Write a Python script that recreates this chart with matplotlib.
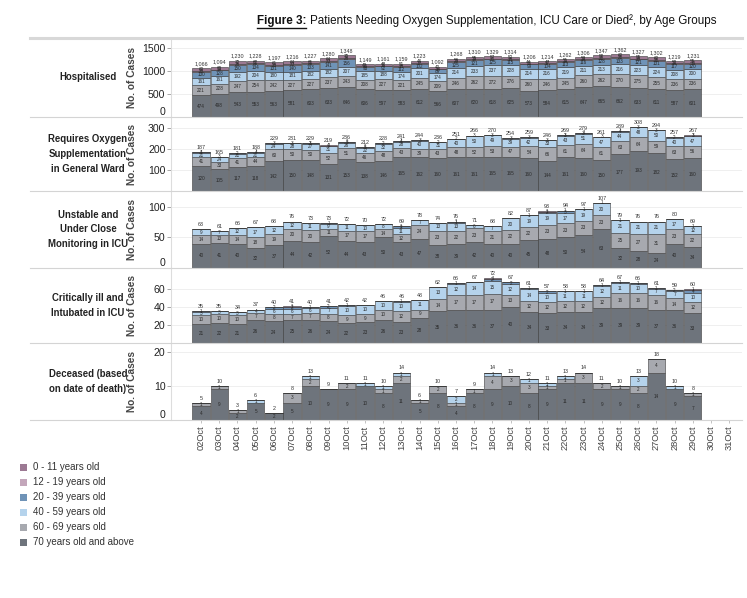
# -*- coding: utf-8 -*-
"""
Figure 3: patients needing oxygen, ICU care or died, by age group (stacked bars)
"""

import matplotlib.pyplot as plt
from matplotlib.lines import Line2D
from matplotlib.patches import Rectangle
import numpy as np

plt.rcParams['font.family'] = ['Liberation Sans', 'DejaVu Sans']

W, H = 747, 598

tick_dates = ['02Oct', '03Oct', '04Oct', '05Oct', '06Oct', '07Oct', '08Oct', '09Oct',
              '10Oct', '11Oct', '12Oct', '13Oct', '14Oct', '15Oct', '16Oct', '17Oct',
              '18Oct', '19Oct', '20Oct', '21Oct', '22Oct', '23Oct', '24Oct', '25Oct',
              '26Oct', '27Oct', '28Oct', '29Oct', '30Oct', '31Oct']
bar_dates = tick_dates[:28]

groups = ['0 - 11 years old', '12 - 19 years old', '20 - 39 years old',
          '40 - 59 years old', '60 - 69 years old', '70 years old and above']
colors = ['#9c7993', '#c3a6ba', '#6f93b7', '#b5d3ec', '#a7a9af', '#6e747c']

# --- Hospitalised
hosp_70 = [474, 498, 543, 553, 563, 581, 603, 633, 646, 606, 597, 583, 612, 566,
           607, 620, 618, 625, 573, 584, 615, 647, 665, 662, 633, 611, 587, 601]
hosp_60 = [221, 228, 247, 254, 242, 227, 227, 237, 243, 208, 227, 221, 245, 209,
           246, 262, 272, 276, 260, 246, 245, 260, 262, 270, 275, 255, 236, 236]
hosp_40 = [161, 161, 192, 204, 180, 181, 182, 182, 207, 185, 188, 174, 201, 174,
           214, 233, 237, 228, 214, 216, 219, 211, 213, 216, 223, 224, 208, 200]
hosp_20 = [130, 128, 150, 134, 131, 140, 133, 141, 156, 93, 92, 112, 102, 89,
           125, 121, 125, 115, 99, 104, 113, 116, 128, 133, 121, 131, 117, 120]
hosp_12 = [20, 19, 26, 21, 20, 23, 21, 23, 26, 15, 15, 18, 17, 14,
           20, 19, 20, 18, 16, 17, 19, 19, 21, 21, 20, 21, 19, 19]
hosp_0 = [60, 60, 72, 62, 61, 64, 61, 64, 70, 42, 42, 51, 46, 40,
          56, 55, 57, 52, 44, 47, 51, 53, 58, 60, 55, 60, 52, 55]

# --- Requires oxygen supplementation in general ward
oxy_70 = [120, 105, 117, 118, 142, 150, 148, 131, 153, 138, 146, 165, 162, 160,
          161, 161, 165, 165, 160, 144, 161, 160, 150, 177, 193, 182, 152, 160]
oxy_60 = [41, 33, 41, 44, 60, 50, 50, 52, 51, 46, 48, 43, 39, 43,
          48, 52, 53, 47, 54, 66, 61, 64, 61, 63, 64, 59, 63, 56]
oxy_40 = [21, 24, 21, 21, 24, 28, 27, 31, 26, 22, 32, 28, 40, 31,
          40, 50, 49, 39, 42, 33, 43, 51, 47, 44, 48, 50, 40, 47]
oxy_20 = [4, 3, 2, 4, 3, 3, 3, 4, 5, 5, 2, 4, 3, 2,
          2, 3, 3, 3, 3, 3, 3, 3, 3, 4, 3, 3, 2, 3]
oxy_12 = [0] * 28
oxy_0 = [1, 0, 0, 1, 0, 0, 1, 1, 1, 1, 0, 1, 0, 0,
         0, 0, 0, 0, 0, 0, 1, 1, 0, 1, 0, 0, 0, 1]

# --- Unstable and under close monitoring in ICU
uns_70 = [40, 41, 40, 32, 37, 44, 42, 52, 44, 43, 50, 43, 47, 38,
          39, 42, 40, 40, 45, 48, 50, 54, 63, 32, 28, 24, 40, 34]
uns_60 = [14, 13, 14, 18, 19, 20, 20, 11, 17, 17, 14, 12, 24, 23,
          22, 23, 21, 22, 22, 23, 23, 23, 23, 25, 27, 31, 23, 22]
uns_40 = [9, 7, 12, 17, 12, 12, 11, 9, 11, 10, 8, 11, 7, 13,
          13, 6, 7, 20, 19, 19, 17, 19, 20, 21, 21, 21, 17, 12]
uns_20 = [0, 0, 0, 0, 0, 0, 0, 1, 0, 0, 0, 2, 0, 0,
          1, 0, 0, 0, 1, 2, 3, 1, 1, 1, 0, 0, 0, 1]
uns_12 = [0] * 28
uns_0 = [0, 0, 0, 0, 0, 0, 0, 0, 0, 0, 0, 1, 0, 0,
         1, 0, 0, 0, 0, 1, 1, 0, 0, 0, 0, 0, 0, 0]

# --- Critically ill and intubated in ICU
crit_70 = [21, 22, 21, 26, 24, 25, 26, 24, 22, 23, 26, 23, 28, 35,
           36, 36, 37, 40, 34, 33, 34, 34, 39, 39, 39, 37, 36, 33]
crit_60 = [10, 10, 10, 7, 8, 7, 7, 8, 9, 9, 10, 12, 9, 14,
           17, 17, 17, 13, 12, 12, 12, 12, 12, 16, 16, 16, 14, 12]
crit_40 = [3, 3, 3, 4, 6, 6, 6, 7, 10, 10, 10, 10, 11, 13,
           12, 14, 15, 12, 14, 10, 11, 11, 12, 11, 10, 7, 7, 10]
crit_20 = [1, 0, 0, 0, 2, 2, 1, 2, 1, 0, 0, 1, 0, 0,
           1, 0, 2, 2, 1, 2, 1, 1, 1, 1, 1, 1, 2, 4]
crit_12 = [0] * 28
crit_0 = [0, 0, 0, 0, 0, 1, 0, 0, 0, 0, 0, 0, 0, 0,
          0, 0, 1, 0, 0, 0, 0, 0, 0, 0, 0, 0, 0, 1]

# --- Deceased (based on date of death)
dec_70 = [4, 9, 2, 5, 2, 5, 10, 9, 9, 10, 8, 11, 5, 8,
          4, 8, 9, 10, 8, 9, 11, 11, 9, 9, 8, 14, 9, 7]
dec_60 = [1, 1, 1, 0, 0, 3, 2, 0, 2, 0, 1, 2, 1, 2,
          1, 1, 4, 3, 3, 1, 1, 3, 2, 1, 2, 4, 0, 1]
dec_40 = [0, 0, 0, 1, 0, 0, 1, 0, 0, 1, 1, 1, 0, 0,
          2, 0, 1, 0, 1, 1, 1, 0, 0, 0, 3, 0, 1, 0]
dec_20 = [0] * 28
dec_12 = [0] * 28
dec_0 = [0] * 28

panels = [
    ('Hospitalised', [hosp_70, hosp_60, hosp_40, hosp_20, hosp_12, hosp_0],
     38, 117, 1720, [0, 500, 1000, 1500], True),
    ('Requires Oxygen\nSupplementation\nin General Ward',
     [oxy_70, oxy_60, oxy_40, oxy_20, oxy_12, oxy_0],
     117, 191, 355, [100, 200, 300], False),
    ('Unstable and\nUnder Close\nMonitoring in ICU',
     [uns_70, uns_60, uns_40, uns_20, uns_12, uns_0],
     191, 268, 126, [0, 50, 100], False),
    ('Critically ill and\nIntubated in ICU',
     [crit_70, crit_60, crit_40, crit_20, crit_12, crit_0],
     268, 343, 83, [20, 40, 60], False),
    ('Deceased (based\non date of death)',
     [dec_70, dec_60, dec_40, dec_20, dec_12, dec_0],
     343, 420, 22.7, [0, 10, 20], False),
]

# stack colours bottom -> top
stack_colors = colors[::-1]

fig = plt.figure(figsize=(W / 100, H / 100), dpi=100)

ax_left, ax_right = 171, 742
x = np.arange(len(bar_dates))

for i, (name, series, top_px, bot_px, ymax, yticks, comma) in enumerate(panels):
    ax = fig.add_axes([ax_left / W, 1 - bot_px / H,
                       (ax_right - ax_left) / W, (bot_px - top_px) / H])
    bottom = np.zeros(len(x))
    for vals, col in zip(series, stack_colors):
        vals = np.array(vals, dtype=float)
        bars = ax.bar(x, vals, bottom=bottom, width=0.95, color=col,
                      edgecolor='#3a3a3a', linewidth=0.4, zorder=2)
        labs = [str(int(v)) if v > 0 else '' for v in vals]
        ax.bar_label(bars, labels=labs, label_type='center', fontsize=3.3,
                     color='#2a2a2a')
        bottom += vals
    if comma:
        tot_labs = ['{:,}'.format(int(t)) for t in bottom]
    else:
        tot_labs = [str(int(t)) for t in bottom]
    ax.bar_label(bars, labels=tot_labs, padding=1.5, fontsize=3.9, color='#333333')

    ax.set_xlim(-1.65, 29.7)
    ax.set_ylim(0, ymax)
    ax.set_yticks(yticks)
    ax.set_yticklabels([str(t) for t in yticks])
    ax.tick_params(axis='y', labelsize=7.6, length=3, width=0.6, color='#999999',
                   labelcolor='#222222', pad=1)
    if yticks[0] == 0:
        ax.get_yticklabels()[0].set_verticalalignment('bottom')
    ax.yaxis.grid(True, color='#ececec', linewidth=0.6, zorder=0)
    ax.set_axisbelow(True)
    for s in ['top', 'right', 'bottom']:
        ax.spines[s].set_visible(False)
    ax.spines['left'].set_color('#dddddd')
    ax.spines['left'].set_linewidth(0.8)

    if i == len(panels) - 1:
        ax.set_xticks(np.arange(len(tick_dates)))
        ax.set_xticklabels(tick_dates, rotation=90, fontsize=6.7, color='#444444')
        ax.tick_params(axis='x', length=2, width=0.5, color='#aaaaaa', pad=2)
    else:
        ax.set_xticks([])

    mid = 1 - (top_px + bot_px) / 2 / H
    fig.text(88 / W, mid, name, ha='center', va='center', fontsize=6.9,
             fontweight='bold', color='#222222', linespacing=1.6)
    fig.text(132 / W, mid, 'No. of Cases', ha='center', va='center', rotation=90,
             fontsize=7.3, fontweight='bold', color='#444444')

    # separator under each row
    fig.add_artist(Line2D([30 / W, ax_right / W], [1 - bot_px / H] * 2,
                          color='#d4d4d4', linewidth=0.8))

# top border
fig.add_artist(Line2D([30 / W, ax_right / W], [1 - 38 / H] * 2,
                      color='#d8d8d8', linewidth=2.2))

# title: two pieces, sized so the whole line spans about 257..714 px
title_x0, title_x1 = 257, 714
ty = 1 - 21 / H
renderer = fig.canvas.get_renderer()
t1 = fig.text(title_x0 / W, ty, 'Figure 3:', fontsize=12, fontweight='bold',
              va='center', color='#111111')
t2 = fig.text(0, ty,
              'Patients Needing Oxygen Supplementation, ICU Care or Died\u00b2, by Age Groups',
              fontsize=12, va='center', color='#111111')
w_full = t1.get_window_extent(renderer).width + 4 + t2.get_window_extent(renderer).width
size = 12 * (title_x1 - title_x0) / w_full
t1.set_fontsize(size)
t2.set_fontsize(size)
bb = t1.get_window_extent(renderer)
t2.set_x((bb.x1 + 4) / W)
fig.add_artist(Line2D([bb.x0 / W, bb.x1 / W], [(bb.y0 - 0.5) / H] * 2,
                      color='#111111', linewidth=1.0))

# legend
for j, (g, c) in enumerate(zip(groups, colors)):
    yp = 467 + 15 * j
    fig.add_artist(Rectangle((20 / W, 1 - (yp + 3.5) / H), 7 / W, 7 / H,
                             transform=fig.transFigure, facecolor=c,
                             edgecolor='none'))
    fig.text(33 / W, 1 - yp / H, g, ha='left', va='center', fontsize=7,
             color='#333333')

fig.savefig('out.png', dpi=100)
